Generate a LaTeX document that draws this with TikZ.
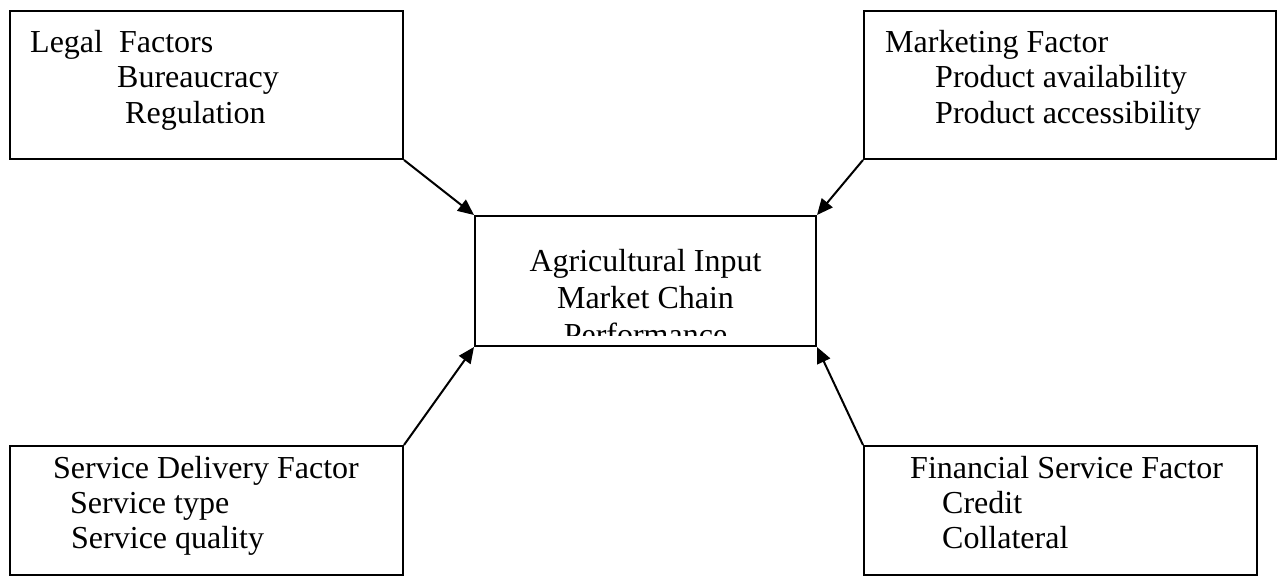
\documentclass[tikz,border=0pt]{standalone}
\usepackage{fontspec}
\setmainfont{Liberation Serif}
\usetikzlibrary{arrows.meta}
\begin{document}
\begin{tikzpicture}[x=1pt,y=-1pt,
  box/.style={draw=black,line width=2pt,inner sep=0pt,minimum width=#1},
  txt/.style={anchor=base west,inner sep=0pt,font=\fontsize{32}{36}\selectfont},
  ctxt/.style={anchor=base,inner sep=0pt,font=\fontsize{32}{36}\selectfont},
  conn/.style={line width=2pt,-{Triangle[length=16pt,width=14pt]}}]
\useasboundingbox (0,0) rectangle (1277,576);
% boxes
\node[box=393pt,minimum height=148pt] (tl) at (206.5,85) {};
\node[box=412pt,minimum height=148pt] (tr) at (1070,85) {};
\node[box=341pt,minimum height=130pt] (c) at (645.5,281) {};
\node[box=393pt,minimum height=129pt] (bl) at (206.5,510.5) {};
\node[box=393pt,minimum height=129pt] (br) at (1060.5,510.5) {};
% texts
\node[txt] (tl1) at (30,52) {Legal\ \ Factors};
\node[txt] (tl2) at (117,87) {Bureaucracy};
\node[txt] (tl3) at (125,123) {Regulation};
\node[txt] (tr1) at (885,52) {Marketing Factor};
\node[txt] (tr2) at (935,87) {Product availability};
\node[txt] (tr3) at (935,123) {Product accessibility};
\node[txt] (bl1) at (53,478) {Service Delivery Factor};
\node[txt] (bl2) at (70,513) {Service type};
\node[txt] (bl3) at (71,548) {Service quality};
\node[txt] (br1) at (910,478) {Financial Service Factor};
\node[txt] (br2) at (942,513) {Credit};
\node[txt] (br3) at (942,548) {Collateral};
\begin{scope}
\clip (477,218) rectangle (814,335);
\node[ctxt] (c1) at (645.5,271) {Agricultural Input};
\node[ctxt] (c2) at (645.5,308) {Market Chain};
\node[ctxt] (c3) at (645.5,345) {Performance};
\end{scope}
% connectors
\draw[conn] (tl.south east) -- (c.north west);
\draw[conn] (tr.south west) -- (c.north east);
\draw[conn] (bl.north east) -- (c.south west);
\draw[conn] (br.north west) -- (c.south east);
\end{tikzpicture}
\end{document}
